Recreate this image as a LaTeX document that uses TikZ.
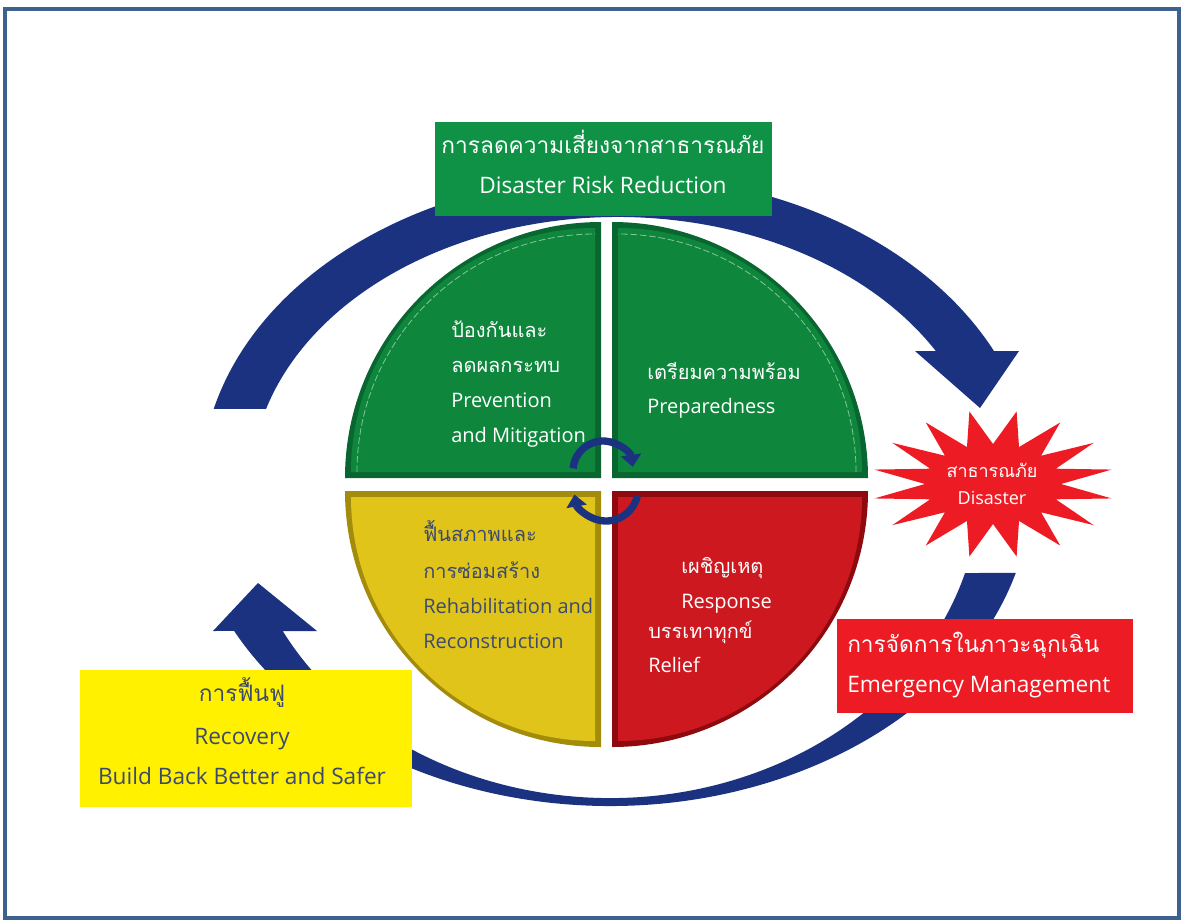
\documentclass[tikz,border=0pt]{standalone}
\usepackage{fontspec}
\setmainfont{Open Sans}
\newfontfamily\thai[Script=Thai]{Loma}
\usetikzlibrary{arrows.meta,fit}
\definecolor{navy}{HTML}{1B3281}
\definecolor{gq}{HTML}{0E873C}
\definecolor{gqd}{HTML}{0A6630}
\definecolor{gbox}{HTML}{0F9245}
\definecolor{yq}{HTML}{E0C41A}
\definecolor{yqd}{HTML}{A38C0C}
\definecolor{ybox}{HTML}{FFF100}
\definecolor{rq}{HTML}{CE1820}
\definecolor{rqd}{HTML}{8E0A0E}
\definecolor{rbox}{HTML}{ED1C24}
\definecolor{slate}{HTML}{3C4A70}
\definecolor{framec}{HTML}{3E6190}
\begin{document}
\begin{tikzpicture}[x=0.75pt,y=0.75pt,
  qt/.style={inner sep=0pt, anchor=base west, font=\fontsize{15}{18}\selectfont},
  bt/.style={inner sep=0pt, font=\fontsize{17}{20}\selectfont},
  st/.style={inner sep=0pt, anchor=base, white, font=\fontsize{13.5}{16}\selectfont},
  box/.style={inner sep=0pt, outer sep=0pt},
  curl/.style={navy, line width=5.5pt, -{Triangle[width=15pt,length=9pt]}},
  gdash/.style={white, opacity=.5, line width=.6pt, dash pattern=on 5pt off 2pt}]
\useasboundingbox (0,0) rectangle (1182,-921);
\draw[framec, line width=3pt] (5,-9) rectangle (1179,-918);

% big cycle arrows
\fill[navy] (213.7,-408.95) arc[start angle=165.8, end angle=25.6, x radius=417, y radius=310]
  -- (1019,-351) -- (980,-408) -- (915,-351) -- (935.8,-351)
  arc[start angle=30, end angle=163.5, x radius=367, y radius=268] -- cycle;
\fill[navy] (1015.8,-572.9) arc[start angle=-15.9, end angle=-152.95, x radius=422, y radius=321]
  -- (213,-631) -- (258,-583) -- (317,-631) -- (282.7,-631)
  arc[start angle=-152.2, end angle=-16.33, x radius=370, y radius=313] -- cycle;

% boxes
\node[box, fill=gbox, fit={(435,-122) (772,-216)}] (drrbox) {};
\node[bt, white, anchor=base] (drrth) at (603,-153) {\thai การลดความเสี่ยงจากสาธารณภัย};
\node[bt, white, anchor=base] (drren) at (603,-193) {Disaster Risk Reduction};

\node[box, fill=rbox, fit={(837,-619) (1133,-713)}] (embox) {};
\node[bt, white, anchor=base west] (emth) at (847,-652) {\thai การจัดการในภาวะฉุกเฉิน};
\node[bt, white, anchor=base west] (emen) at (847,-692) {Emergency Management};

\node[box, fill=ybox, fit={(80,-670) (412,-807)}] (recbox) {};
\node[bt, slate, anchor=base] (recth) at (242,-701) {\thai การฟื้นฟู};
\node[bt, slate, anchor=base] (recen) at (242,-744) {Recovery};
\node[bt, slate, anchor=base] (bbb) at (242,-784) {Build Back Better and Safer};

% quadrants
\fill[gqd] (601,-478) -- ++(-256,0) arc[start angle=180,end angle=90,radius=256] -- cycle;
\fill[gq] (595,-472) -- ++(-244,0) arc[start angle=180,end angle=90,radius=244] -- cycle;
\draw[gdash] (595,-472) ++(-238,0) arc[start angle=180,end angle=90,radius=238];

\fill[gqd] (612,-478) -- ++(256,0) arc[start angle=0,end angle=90,radius=256] -- cycle;
\fill[gq] (618,-472) -- ++(244,0) arc[start angle=0,end angle=90,radius=244] -- cycle;
\draw[gdash] (618,-472) ++(238,0) arc[start angle=0,end angle=90,radius=238];

\fill[yqd] (601,-491) -- ++(-256,0) arc[start angle=180,end angle=270,radius=256] -- cycle;
\fill[yq] (595,-497) -- ++(-244,0) arc[start angle=180,end angle=270,radius=244] -- cycle;

\fill[rqd] (612,-491) -- ++(256,0) arc[start angle=0,end angle=-90,radius=256] -- cycle;
\fill[rq] (618,-497) -- ++(244,0) arc[start angle=0,end angle=-90,radius=244] -- cycle;

% quadrant texts
\node[qt, white] (pm1) at (451,-337) {\thai ป้องกันและ};
\node[qt, white] (pm2) at (451,-372) {\thai ลดผลกระทบ};
\node[qt, white] (pm3) at (451,-407) {Prevention};
\node[qt, white] (pm4) at (451,-442) {and Mitigation};

\node[qt, white] (pp1) at (647,-379) {\thai เตรียมความพร้อม};
\node[qt, white] (pp2) at (647,-413) {Preparedness};

\node[qt, slate] (rr1) at (423,-541) {\thai ฟื้นสภาพและ};
\node[qt, slate] (rr2) at (423,-578) {\thai การซ่อมสร้าง};
\node[qt, slate] (rr3) at (423,-613) {Rehabilitation and};
\node[qt, slate] (rr4) at (423,-648) {Reconstruction};

\node[qt, white] (re1) at (681,-573) {\thai เผชิญเหตุ};
\node[qt, white] (re2) at (681,-608) {Response};
\node[qt, white] (re3) at (648,-638) {\thai บรรเทาทุกข์};
\node[qt, white] (re4) at (648,-672) {Relief};

% small cycle arrows
\draw[curl] (603,-471) ++(175:30) arc[start angle=175,end angle=8,radius=30];
\draw[curl] (606,-489) ++(-12:32) arc[start angle=-12,end angle=-170,radius=32];

% disaster star
\begin{scope}[shift={(993,-484)}]
\fill[rbox] (0:68 and 40) \foreach \j in {0,...,15} { -- ({\j*22.5+11.25}:121 and 74) -- ({\j*22.5+22.5}:68 and 40) } -- cycle;
\end{scope}
\node[st] (dsth) at (992,-477) {\thai สาธารณภัย};
\node[st] (dsen) at (992,-504) {Disaster};
\end{tikzpicture}
\end{document}
